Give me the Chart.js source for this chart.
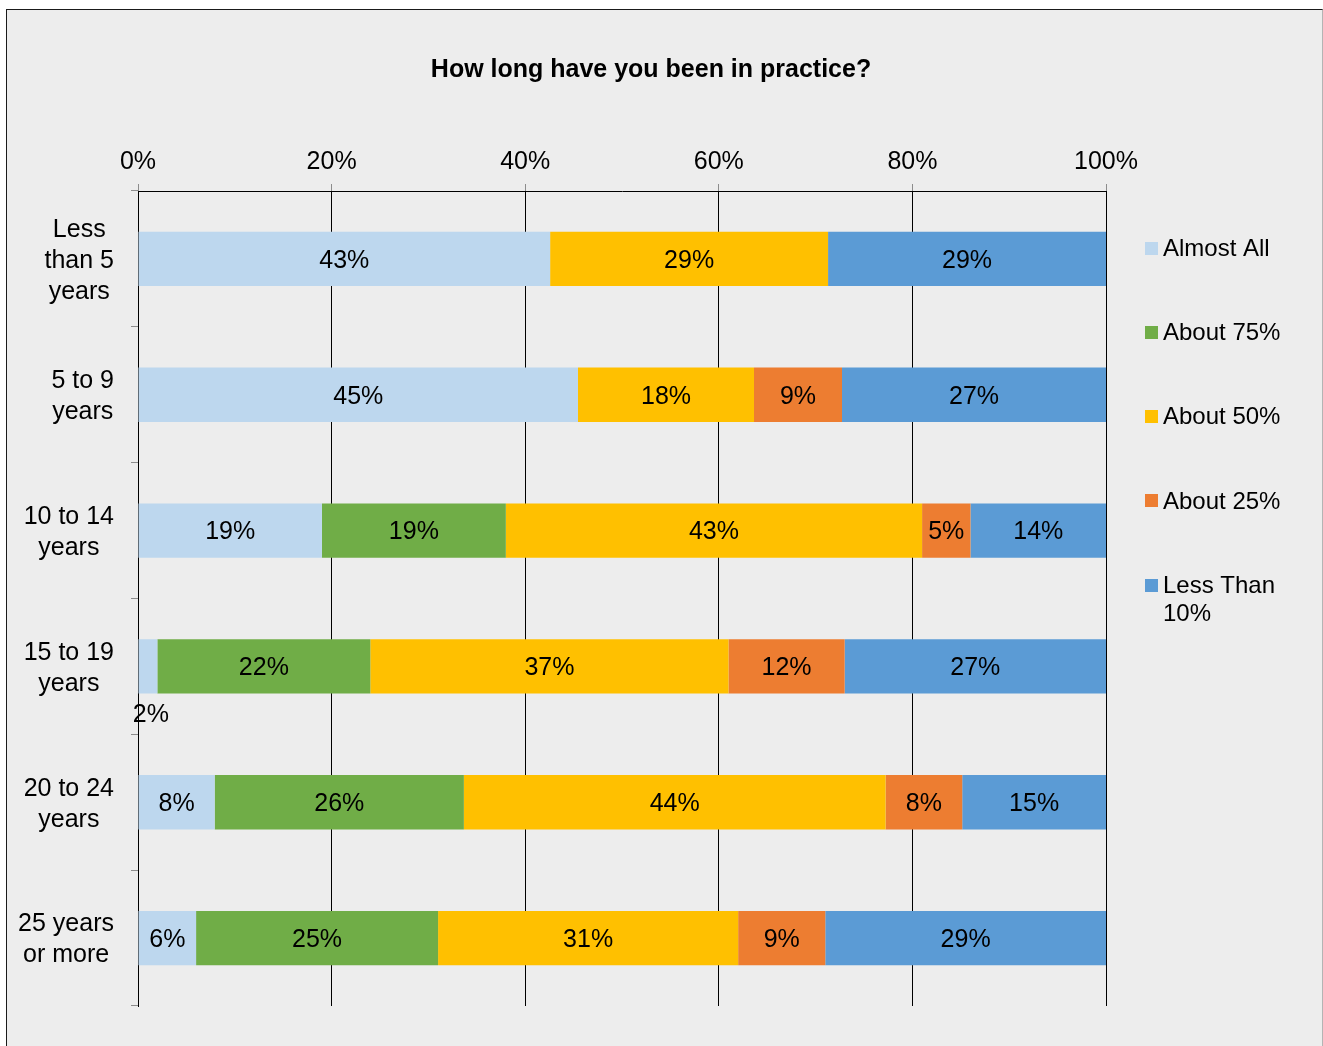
<!DOCTYPE html>
<html>
<head>
<meta charset="utf-8">
<title>How long have you been in practice?</title>
<script src="https://cdn.jsdelivr.net/npm/chart.js@4.4.1/dist/chart.umd.min.js"></script>
<style>
  html, body { margin: 0; padding: 0; background: #ffffff; width: 1323px; height: 1046px; overflow: hidden; }
  #frame {
    position: absolute; left: 6px; top: 9px; width: 1315px; height: 1037px;
    background: #ededed;
    border-left: 1px solid #1a1a1a; border-top: 1px solid #1a1a1a; border-right: 1px solid #b4b4b4;
  }
  #wrap { position: absolute; left: 0; top: 0; width: 1323px; height: 1046px; }
</style>
</head>
<body>
<div id="frame"></div>
<div id="wrap"><canvas id="chart" width="1323" height="1046"></canvas></div>
<script>
// Survey: years in practice vs. share of work
const chartTitle = 'How long have you been in practice?';
const categories = ['Less than 5 years', '5 to 9 years', '10 to 14 years', '15 to 19 years', '20 to 24 years', '25 years or more'];
const seriesNames = ['Almost All', 'About 75%', 'About 50%', 'About 25%', 'Less Than 10%'];
const seriesColors = ['#BDD7EE', '#70AD47', '#FFC000', '#ED7D31', '#5B9BD5'];

// Reported percentages per group (0 = no respondents in that bucket)
const almostAll   = [43, 45, 19,  2,  8,  6];
const about75     = [ 0,  0, 19, 22, 26, 25];
const about50     = [29, 18, 43, 37, 44, 31];
const about25     = [ 0,  9,  5, 12,  8,  9];
const lessThan10  = [29, 27, 14, 27, 15, 29];
const seriesValues = [almostAll, about75, about50, about25, lessThan10];

const xTicks = [0, 20, 40, 60, 80, 100];

const FONT = '"Liberation Sans", Arial, Helvetica, sans-serif';
Chart.defaults.font.family = FONT;
Chart.defaults.color = '#000';

// 100% stacked: each segment is its share of the row total
const rowTotals = categories.map((_, i) => seriesValues.reduce((s, arr) => s + arr[i], 0));
const datasets = seriesNames.map((name, k) => ({
  label: name,
  data: seriesValues[k].map((v, i) => v / rowTotals[i] * 100),
  backgroundColor: seriesColors[k],
  borderWidth: 0,
  categoryPercentage: 1.0,
  barPercentage: 0.4
}));

function wrapText(ctx, text, maxW) {
  const words = text.split(' ');
  const lines = [];
  let cur = '';
  for (const w of words) {
    const test = cur ? cur + ' ' + w : w;
    if (cur && ctx.measureText(test).width > maxW) { lines.push(cur); cur = w; }
    else cur = test;
  }
  if (cur) lines.push(cur);
  return lines;
}

// Title centred over the whole frame
const titlePlugin = {
  id: 'frameTitle',
  afterDraw(chart) {
    const ctx = chart.ctx;
    ctx.save();
    ctx.font = 'bold 25px ' + FONT;
    ctx.fillStyle = '#000';
    ctx.textAlign = 'center';
    ctx.textBaseline = 'middle';
    ctx.fillText(chartTitle, 651, 70);
    ctx.restore();
  }
};

// Wrapped category names, each block centred on its line and set against the axis
const categoryLabels = {
  id: 'categoryLabels',
  afterDraw(chart) {
    const ctx = chart.ctx;
    const yScale = chart.scales.y;
    ctx.save();
    ctx.font = '25px ' + FONT;
    ctx.fillStyle = '#000';
    ctx.textAlign = 'center';
    ctx.textBaseline = 'middle';
    const lineH = 31;
    const rightEdge = chart.chartArea.left - 24;
    categories.forEach((name, i) => {
      const lines = wrapText(ctx, name, 102);
      const blockW = Math.max(...lines.map(l => ctx.measureText(l).width));
      const cx = rightEdge - blockW / 2;
      const cy = yScale.getPixelForValue(i) + 2;
      const startY = cy - (lines.length - 1) * lineH / 2;
      lines.forEach((l, j) => ctx.fillText(l, cx, startY + j * lineH));
    });
    ctx.restore();
  }
};

// Value labels inside each segment; too-narrow segments get theirs below the bar
const valueLabels = {
  id: 'valueLabels',
  afterDatasetsDraw(chart) {
    const ctx = chart.ctx;
    ctx.save();
    ctx.font = '25px ' + FONT;
    ctx.fillStyle = '#000';
    ctx.textAlign = 'center';
    ctx.textBaseline = 'middle';
    chart.data.datasets.forEach((ds, di) => {
      const meta = chart.getDatasetMeta(di);
      meta.data.forEach((bar, i) => {
        const v = seriesValues[di][i];
        if (!v) return;
        const text = v + '%';
        const left = Math.min(bar.x, bar.base);
        const right = Math.max(bar.x, bar.base);
        const cx = (left + right) / 2;
        const tw = ctx.measureText(text).width;
        if (tw <= right - left) {
          ctx.fillText(text, cx, bar.y + 2);
        } else {
          ctx.fillText(text, cx + 3, bar.y + bar.height / 2 + 22);
        }
      });
    });
    ctx.restore();
  }
};

// Vertical legend on the right
const sideLegend = {
  id: 'sideLegend',
  afterDraw(chart) {
    const ctx = chart.ctx;
    ctx.save();
    ctx.font = '24px ' + FONT;
    ctx.textAlign = 'left';
    ctx.textBaseline = 'middle';
    const boxX = 1145, textX = 1163, top = 248, step = 84.3, lineH = 28, box = 13;
    chart.data.datasets.forEach((ds, k) => {
      const y = top + k * step;
      ctx.fillStyle = ds.backgroundColor;
      ctx.fillRect(boxX, Math.round(y - box / 2), box, box);
      ctx.fillStyle = '#000';
      const lines = wrapText(ctx, ds.label, 1318 - textX);
      lines.forEach((l, j) => ctx.fillText(l, textX, y + 1 + j * lineH));
    });
    ctx.restore();
  }
};

new Chart(document.getElementById('chart'), {
  type: 'bar',
  data: { labels: categories, datasets },
  options: {
    indexAxis: 'y',
    responsive: false,
    animation: false,
    devicePixelRatio: 1,
    layout: { padding: { top: 136, left: 0, right: 217, bottom: 40 } },
    plugins: {
      legend: { display: false },
      title: { display: false },
      tooltip: { enabled: false }
    },
    scales: {
      x: {
        position: 'top',
        stacked: true,
        min: 0,
        max: 100,
        afterBuildTicks(scale) { scale.ticks = xTicks.map(v => ({ value: v })); },
        afterFit(scale) { scale.height = 55; },
        ticks: {
          font: { size: 25 },
          color: '#000',
          padding: 7,
          maxRotation: 0,
          callback: v => v + '%'
        },
        grid: { color: '#000', lineWidth: 1, tickColor: '#8c8c8c', tickLength: 7 },
        border: { color: '#000', width: 1 }
      },
      y: {
        stacked: true,
        ticks: { display: false },
        grid: { offset: true, drawOnChartArea: false, tickColor: '#8c8c8c', tickLength: 7 },
        border: { color: '#000', width: 1 },
        afterFit(scale) { scale.width = 138; }
      }
    }
  },
  plugins: [valueLabels, categoryLabels, sideLegend, titlePlugin]
});
</script>
</body>
</html>
